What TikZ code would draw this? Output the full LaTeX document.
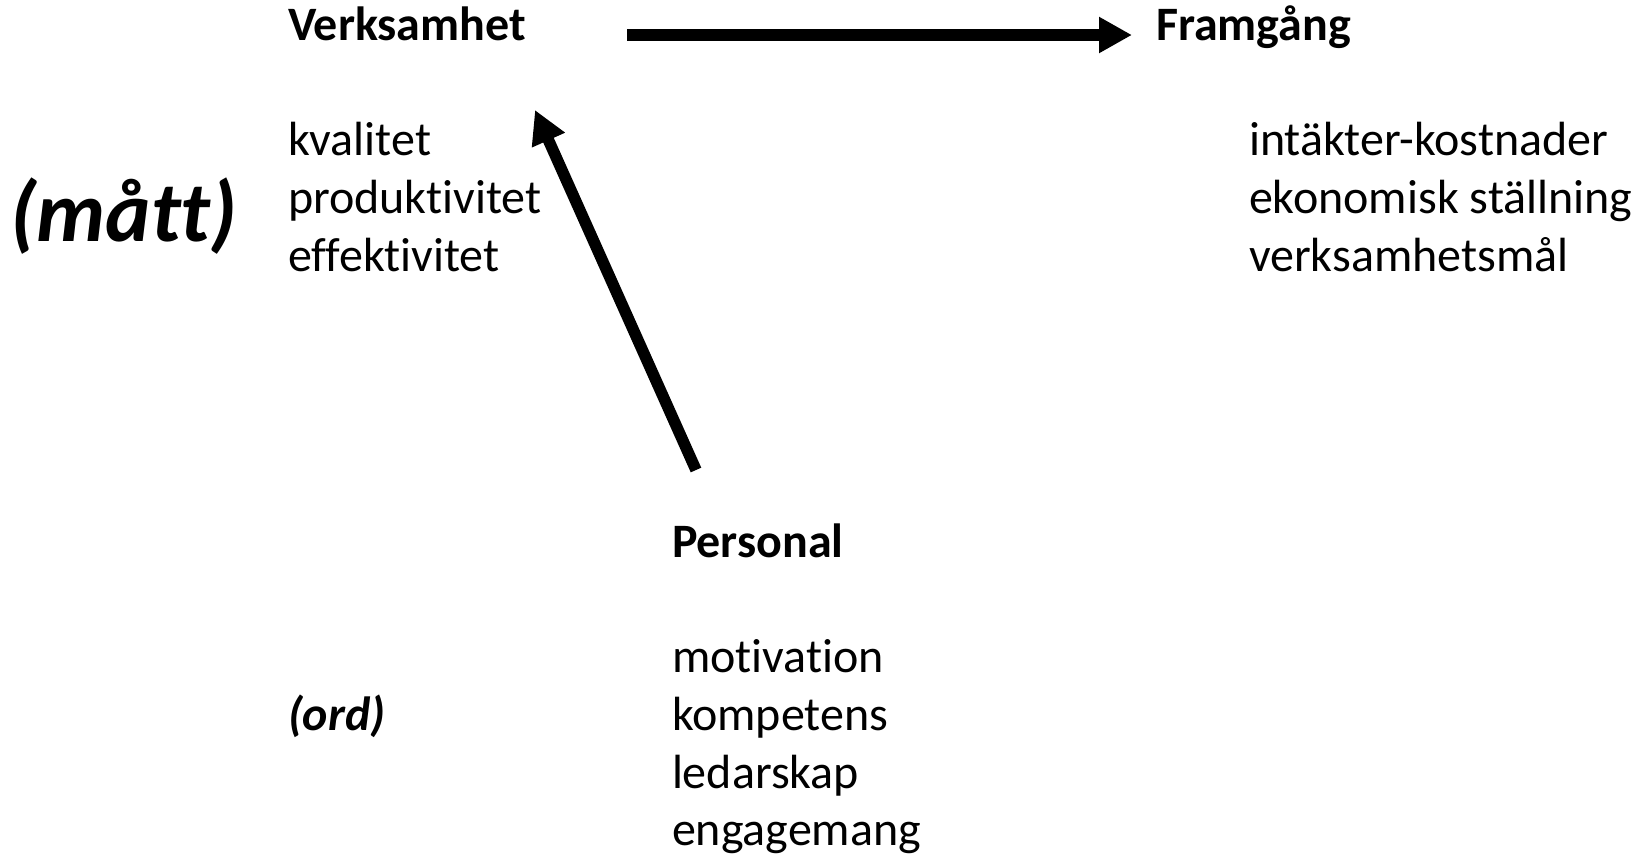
\documentclass[tikz,border=0pt]{standalone}
\usepackage{fontspec}
\setmainfont{Carlito}[Ligatures=NoCommon]
\usetikzlibrary{arrows.meta}
\tikzset{
  txt/.style={anchor=base west, inner sep=0pt, outer sep=0pt, font=\fontsize{48}{57}\selectfont},
  head/.style={txt, font=\fontsize{48}{57}\selectfont\bfseries},
  emph/.style={txt, font=\fontsize{48}{57}\selectfont\bfseries\itshape},
  big/.style={txt, font=\fontsize{86}{96}\selectfont\bfseries\itshape},
  conn/.style={line width=11.5pt, -{Triangle[length=33pt,width=34pt]}}
}
\begin{document}
\begin{tikzpicture}[x=1pt,y=-1pt]
\useasboundingbox (0,0) rectangle (1647,855);
% headings
\node[head] (verk) at (288,40) {Verksamhet};
\node[head] (fram) at (1156,40) {Framgång};
\node[head] (pers) at (672,557) {Personal};
% lists
\node[txt] (v1) at (288,155.5) {kvalitet};
\node[txt] (v2) at (288,213) {produktivitet};
\node[txt] (v3) at (288,271) {effektivitet};
\node[txt] (f1) at (1249,155.5) {intäkter-kostnader};
\node[txt] (f2) at (1249,213) {ekonomisk ställning};
\node[txt] (f3) at (1249,271) {verksamhetsmål};
\node[txt] (p1) at (672,672) {motivation};
\node[txt] (p2) at (672,730) {kompetens};
\node[txt] (p3) at (672,788) {ledarskap};
\node[txt] (p4) at (672,845.5) {engagemang};
% labels
\node[big] (matt) at (10,241) {(mått)};
\node[emph] (ord) at (288,730) {(ord)};
% connectors
\coordinate (hA) at (627,35);
\coordinate (hB) at (1132,35);
\coordinate (dA) at (696,470);
\coordinate (dB) at (535,110);
\draw[conn] (hA) -- (hB);
\draw[conn] (dA) -- (dB);
\end{tikzpicture}
\end{document}
